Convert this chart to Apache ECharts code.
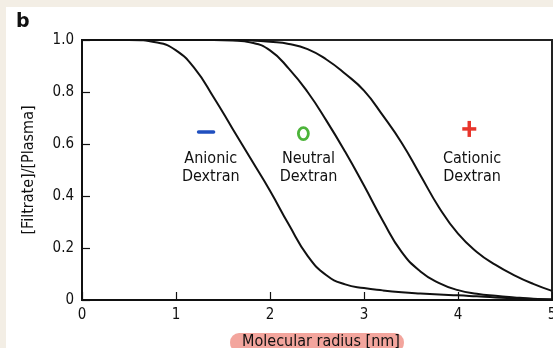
<!DOCTYPE html>
<html>
<head>
<meta charset="utf-8">
<script src="https://cdn.jsdelivr.net/npm/echarts@6/dist/echarts.min.js"></script>
<style>
  html, body { margin: 0; padding: 0; background: #f3eee5; }
  #chart { width: 553px; height: 348px; }
</style>
</head>
<body>
<div id="chart"></div>
<script>
// Molecular radius (nm) sampled along the x axis
const radius = [0, 0.5, 0.8, 1.0, 1.2, 1.4, 1.6, 1.8, 2.0, 2.2, 2.4, 2.6, 2.8, 3.0, 3.2, 3.4, 3.6, 3.8, 4.0, 4.2, 4.4, 4.6, 4.8, 5.0];
// Filtrate/plasma concentration ratio for each dextran
const anionic  = [1, 1, 0.99, 0.96, 0.89, 0.78, 0.66, 0.54, 0.42, 0.29, 0.17, 0.095, 0.06, 0.046, 0.037, 0.03, 0.025, 0.021, 0.018, 0.014, 0.01, 0.007, 0.004, 0.002];
const neutral  = [1, 1, 1, 1, 1, 1, 0.998, 0.99, 0.96, 0.89, 0.80, 0.69, 0.57, 0.44, 0.305, 0.185, 0.11, 0.065, 0.038, 0.024, 0.016, 0.01, 0.005, 0.002];
const cationic = [1, 1, 1, 1, 1, 1, 1, 0.998, 0.993, 0.985, 0.965, 0.925, 0.87, 0.805, 0.71, 0.605, 0.48, 0.355, 0.255, 0.185, 0.135, 0.095, 0.062, 0.035];
// Y tick values
const yTicks = [0, 0.2, 0.4, 0.6, 0.8, 1.0];
// Curve labels: [text, radius, ratio]
const curveLabels = [
  ['Anionic\nDextran', 1.37, 0.51],
  ['Neutral\nDextran', 2.41, 0.51],
  ['Cationic\nDextran', 4.15, 0.51]
];
// Charge symbols: [radius, ratio]
const minusPos = [1.32, 0.646];
const zeroPos = [2.355, 0.64];
const plusPos = [4.12, 0.658];

const FONT = '"DejaVu Sans Condensed", "DejaVu Sans", sans-serif';
const pair = (ys) => radius.map((x, i) => [x, ys[i]]);

const chart = echarts.init(document.getElementById('chart'), null, { renderer: 'canvas' });

function lineSeries(name, ys) {
  return {
    name, type: 'line', data: pair(ys), smooth: 0.5,
    symbol: 'none', lineStyle: { color: '#111', width: 2 }, z: 3
  };
}

chart.setOption({
  backgroundColor: '#f3eee5',
  animation: false,
  grid: {
    left: 82, right: 1, top: 40, bottom: 48, outerBoundsMode: 'none', containLabel: false,
    show: true, borderColor: '#222', borderWidth: 2, backgroundColor: '#fff'
  },
  xAxis: {
    type: 'value', min: 0, max: 5, interval: 1,
    name: 'Molecular radius [nm]', nameLocation: 'middle', nameGap: 33,
    nameTextStyle: { fontFamily: FONT, fontSize: 16, color: '#111', backgroundColor: '#f3a59d', borderRadius: 9, padding: [1, 4, 2, 12] },
    axisLine: { lineStyle: { color: '#111', width: 2 } },
    axisTick: { inside: true, length: 8, lineStyle: { color: '#111', width: 1.2 } },
    axisLabel: { fontFamily: FONT, fontSize: 15, color: '#111', margin: 8, hideOverlap: false },
    splitLine: { show: false }
  },
  yAxis: {
    type: 'value', min: 0, max: 1, interval: 0.2,
    name: '[Filtrate]/[Plasma]', nameLocation: 'middle', nameGap: 45,
    nameTextStyle: { fontFamily: FONT, fontSize: 16, color: '#111' },
    axisLine: { lineStyle: { color: '#111', width: 2 } },
    axisTick: { inside: true, length: 8, lineStyle: { color: '#111', width: 1.2 } },
    axisLabel: {
      fontFamily: FONT, fontSize: 15, color: '#111', margin: 8,
      formatter: (v) => yTicks.includes(+v.toFixed(1)) ? (v === 0 ? '0' : v.toFixed(1)) : ''
    },
    splitLine: { show: false }
  },
  series: [lineSeries('Anionic', anionic), lineSeries('Neutral', neutral), lineSeries('Cationic', cationic)]
});

// Annotations placed in data coordinates
const px = (p) => chart.convertToPixel({ gridIndex: 0 }, p);
const graphics = [
  { type: 'rect', shape: { x: 6, y: 7, width: 553, height: 348 }, style: { fill: '#fff' }, z: -10, silent: true },
  { type: 'text', x: 16, y: 13, style: { text: 'b', font: 'bold 19px "DejaVu Sans", sans-serif', fill: '#111' } }
];
curveLabels.forEach(([t, x, y]) => {
  const p = px([x, y]);
  graphics.push({
    type: 'text', x: p[0], y: p[1],
    style: { text: t, font: '16px ' + FONT, fill: '#111', align: 'center', verticalAlign: 'middle', lineHeight: 18 }
  });
});
const m = px(minusPos);
graphics.push({ type: 'line', shape: { x1: m[0] - 7.5, y1: m[1], x2: m[0] + 7.5, y2: m[1] }, style: { stroke: '#1f4fbf', lineWidth: 3.5, lineCap: 'round' } });
const z0 = px(zeroPos);
graphics.push({ type: 'ellipse', shape: { cx: z0[0], cy: z0[1], rx: 5, ry: 6 }, style: { fill: 'none', stroke: '#4cb43a', lineWidth: 2.8 } });
const pl = px(plusPos);
graphics.push({ type: 'line', shape: { x1: pl[0] - 7, y1: pl[1], x2: pl[0] + 7, y2: pl[1] }, style: { stroke: '#e8352b', lineWidth: 3.5 } });
graphics.push({ type: 'line', shape: { x1: pl[0], y1: pl[1] - 8, x2: pl[0], y2: pl[1] + 8 }, style: { stroke: '#e8352b', lineWidth: 3.5 } });
chart.setOption({ graphic: graphics });
</script>
</body>
</html>
